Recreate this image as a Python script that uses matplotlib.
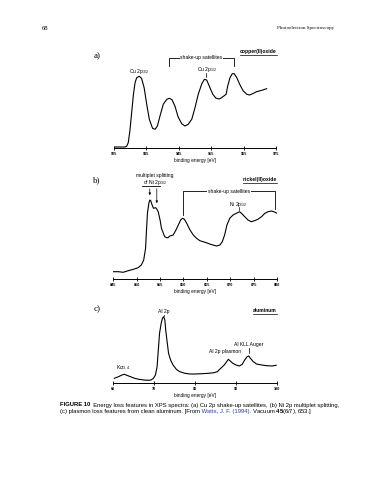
import numpy as np
import matplotlib
matplotlib.use("Agg")
import matplotlib.pyplot as plt
from matplotlib.lines import Line2D

plt.rcParams['font.family'] = ['Liberation Sans', 'DejaVu Sans']
plt.rcParams['mathtext.fontset'] = 'custom'
plt.rcParams['mathtext.rm'] = 'Liberation Sans'
plt.rcParams['mathtext.bf'] = 'Liberation Sans:bold'

# --- (a) Cu 2p, copper(II)oxide ---
cu_energy = [925.3, 928.4, 928.9, 929.4, 929.9, 930.5, 931.0, 931.5, 932.0, 932.8,
             933.5, 934.3, 935.1, 935.9, 936.9, 937.7, 938.4, 939.2, 940.2, 941.3,
             942.1, 942.9, 943.8, 944.8, 945.9, 946.9, 947.9, 949.0, 950.0, 951.0,
             952.1, 952.9, 953.6, 954.4, 955.5, 956.5, 957.5, 958.2, 958.9, 959.6,
             960.1, 960.8, 961.5, 962.1, 962.9, 963.9, 964.9, 966.0, 966.8, 967.8,
             969.0, 970.6, 972.1]
cu_counts = [1.0, 1.0, 1.7, 5.3, 17.0, 37.0, 53.7, 65.3, 70.3, 71.7,
             69.7, 60.3, 43.7, 28.7, 19.7, 18.7, 22.0, 32.0, 43.7, 48.7,
             49.7, 48.3, 42.0, 31.0, 24.3, 22.0, 23.7, 28.7, 40.3, 53.7,
             64.3, 68.7, 68.0, 62.0, 53.7, 49.7, 49.0, 50.3, 52.0, 53.7,
             62.0, 70.3, 74.3, 74.3, 70.3, 63.0, 57.0, 53.7, 53.0, 54.3,
             56.3, 57.7, 59.3]
cu_ticks = [925, 935, 945, 955, 965, 975]

# --- (b) Ni 2p, nickel(II)oxide ---
ni_energy = [845.0, 846.1, 847.1, 848.2, 849.3, 850.3, 851.0, 851.5, 851.9, 852.1,
             852.3, 852.6, 852.8, 853.0, 853.3, 853.6, 854.0, 854.2, 854.6, 855.0,
             855.3, 855.7, 856.0, 856.4, 856.7, 857.1, 857.8, 858.4, 858.9, 859.4,
             859.8, 860.2, 860.7, 861.4, 862.1, 862.8, 863.5, 864.2, 864.9, 865.6,
             866.3, 867.1, 867.8, 868.3, 868.8, 869.3, 869.9, 870.6, 871.3, 872.0,
             872.4, 873.1, 873.8, 874.5, 875.2, 875.9, 876.7, 877.4, 878.1, 878.8,
             879.5, 880.0]
ni_counts = [7.3, 7.3, 6.7, 8.3, 9.7, 11.3, 14.0, 19.0, 30.7, 49.0,
             65.7, 75.7, 79.0, 78.3, 74.0, 70.7, 71.3, 70.7, 67.3, 59.0,
             50.7, 45.7, 42.3, 41.3, 41.3, 43.0, 44.0, 49.0, 54.0, 59.0,
             60.7, 59.7, 55.7, 49.0, 44.0, 40.7, 38.3, 37.3, 36.3, 35.0,
             34.0, 33.0, 34.0, 37.3, 44.0, 54.0, 60.7, 64.0, 65.7, 67.3,
             65.7, 62.3, 59.0, 57.3, 58.3, 59.7, 62.3, 65.7, 67.3, 68.0,
             67.0, 65.7]
ni_ticks = [845, 850, 855, 860, 865, 870, 875, 880]

# --- (c) Al 2p, aluminum ---
al_energy = [60.25, 61.25, 62.1, 62.7, 63.3, 64.2, 65.2, 66.25, 67.5, 68.5,
             69.2, 69.8, 70.3, 70.7, 71.0, 71.3, 71.7, 72.0, 72.3, 72.6,
             72.8, 73.2, 73.5, 74.0, 74.6, 75.4, 76.25, 77.5, 78.75, 80.0,
             81.7, 83.3, 84.6, 85.4, 86.25, 87.1, 87.7, 88.1, 88.5, 89.2,
             90.0, 90.8, 91.5, 92.1, 92.7, 93.1, 93.5, 94.2, 95.0, 96.25,
             97.5, 98.75, 99.8]
al_counts = [4.7, 6.3, 8.0, 8.7, 7.7, 6.3, 4.7, 3.7, 3.0, 2.7,
             3.0, 4.7, 8.0, 16.3, 33.0, 49.7, 59.7, 64.7, 66.3, 63.0,
             53.0, 39.7, 29.7, 23.0, 18.0, 13.7, 11.3, 9.7, 9.0, 9.0,
             9.3, 9.7, 10.3, 11.3, 14.7, 18.0, 21.3, 23.7, 22.3, 19.7,
             18.0, 17.0, 18.7, 23.0, 26.3, 27.0, 24.7, 21.3, 19.0, 18.0,
             17.3, 17.0, 17.7]
al_ticks = [60, 70, 80, 90, 100]

W, H = 370, 480
fig = plt.figure(figsize=(W / 100, H / 100), dpi=100)


def fx(px):
    return px / W


def fy(py):
    return 1 - py / H


def spectrum_axes(left, right, base, height, xlim, ticks, energy, counts):
    ax = fig.add_axes([fx(left), fy(base), (right - left) / W, height / H])
    ax.plot(energy, counts, color='black', lw=0.8)
    ax.set_xlim(*xlim)
    ax.set_ylim(0, height)
    for s in ['top', 'left', 'right']:
        ax.spines[s].set_visible(False)
    ax.spines['bottom'].set_linewidth(0.7)
    ax.set_yticks([])
    ax.set_xticks(ticks)
    ax.set_xticklabels([str(t) for t in ticks], fontsize=2.7, fontweight='bold')
    ax.tick_params(axis='x', direction='inout', length=2.5, width=0.6, pad=1.5)
    ax.set_xlabel('binding energy [eV]', fontsize=3.4, labelpad=1.5)
    ax.patch.set_alpha(0)
    return ax


ax_a = spectrum_axes(114, 276, 148, 100, (925, 975), cu_ticks, cu_energy, cu_counts)
ax_b = spectrum_axes(113.3, 277, 279, 110, (845, 880), ni_ticks, ni_energy, ni_counts)
ax_c = spectrum_axes(113.3, 277, 383, 80, (60, 100), al_ticks, al_energy, al_counts)

lab = dict(fontsize=3.6, ha='center', va='center')
white = dict(facecolor='white', edgecolor='none', pad=0.6)

# panel a annotations
ax_a.text(932.7, 77, 'Cu 2p$_{3/2}$', **lab)
ax_a.text(953.7, 78, 'Cu 2p$_{1/2}$', **lab)
ax_a.plot([953.4, 953.4], [75, 71], color='black', lw=0.5)
ax_a.plot([942, 942, 962.1, 962.1], [82, 90, 90, 82], color='black', lw=0.6, clip_on=False)
ax_a.text(952, 90, 'shake-up satellites', bbox=white, **lab)

# panel b annotations
ax_b.text(853.9, 99.5, 'multiplet splitting\nof Ni 2p$_{3/2}$', linespacing=1.0, **lab)
ax_b.plot([851.1, 855.0], [93, 93], color='black', lw=0.6)
ax_b.annotate('', xy=(852.8, 81), xytext=(852.8, 93),
              arrowprops=dict(arrowstyle='-|>', lw=0.5, color='black', mutation_scale=3))
ax_b.annotate('', xy=(854.3, 73), xytext=(854.3, 93),
              arrowprops=dict(arrowstyle='-|>', lw=0.5, color='black', mutation_scale=3))
ax_b.plot([859.9, 859.9, 879.5, 879.5], [64, 88, 88, 70], color='black', lw=0.6, clip_on=False)
ax_b.text(869.7, 88, 'shake-up satellites', bbox=white, **lab)
ax_b.text(871.6, 75, 'Ni 2p$_{1/2}$', **lab)
ax_b.plot([871.9, 871.9], [72, 69], color='black', lw=0.5)

# panel c annotations
ax_c.text(72.3, 71.5, 'Al 2p', **lab)
ax_c.plot([72.3, 72.3], [68.5, 67], color='black', lw=0.5)
ax_c.text(93.0, 38.5, 'Al KLL Auger', **lab)
ax_c.plot([93.1, 93.1], [35.5, 30], color='black', lw=0.5)
ax_c.text(87.4, 31.5, 'Al 2p plasmon', **lab)
ax_c.text(62.4, 15, r'K$\alpha_{3,4}$', **lab)

# panel letters and sample names
serif = ['Liberation Serif', 'DejaVu Serif']
for txt, py in [('a)', 56), ('b)', 180), ('c)', 309)]:
    fig.text(fx(97), fy(py), txt, fontsize=6.5, family=serif, ha='center', va='center')

names = []
for txt, py in [('copper(II)oxide', 52), ('nickel(II)oxide', 180), ('aluminum', 311)]:
    names.append(fig.text(fx(277), fy(py), txt, fontsize=3.6, fontweight='bold',
                          ha='right', va='center'))

# page header
fig.text(fx(42), fy(28), '68', fontsize=4.8, family=serif, ha='left', va='center')
fig.text(fx(334), fy(28), 'Photoelectron Spectroscopy', fontsize=3.6, family=serif,
         ha='right', va='center')

# caption
cap1 = [('FIGURE 10', 'black', 'bold'),
        ('  Energy loss features in XPS spectra: (a) Cu 2p shake-up satellites,', 'black', 'normal'),
        (' (b) Ni 2p multiplet splitting,', 'black', 'normal')]
cap2 = [('(c) plasmon loss features from clean aluminum. [From', 'black', 'normal'),
        (' Watts, J. F. (1994).', '#2a3fb0', 'normal'),
        (r' Vacuum $\mathbf{45}$(6/7), 653.]', 'black', 'normal')]

fig.canvas.draw()
renderer = fig.canvas.get_renderer()
inv = fig.transFigure.inverted()

for t in names:
    bb = t.get_window_extent(renderer)
    (x0, y0), (x1, _) = inv.transform([(bb.x0, bb.y0 - 0.3), (bb.x1, bb.y0)])
    fig.add_artist(Line2D([x0, x1], [y0, y0], color='black', lw=0.5))


def run_text(parts, px, py):
    x = fx(px)
    for s, c, w in parts:
        t = fig.text(x, fy(py), s, fontsize=4.2, color=c, fontweight=w,
                     ha='left', va='center')
        bb = t.get_window_extent(renderer)
        x = inv.transform((bb.x1, bb.y0))[0]


run_text(cap1, 60, 405)
run_text(cap2, 60, 412)

fig.savefig('out.png', dpi=100)
